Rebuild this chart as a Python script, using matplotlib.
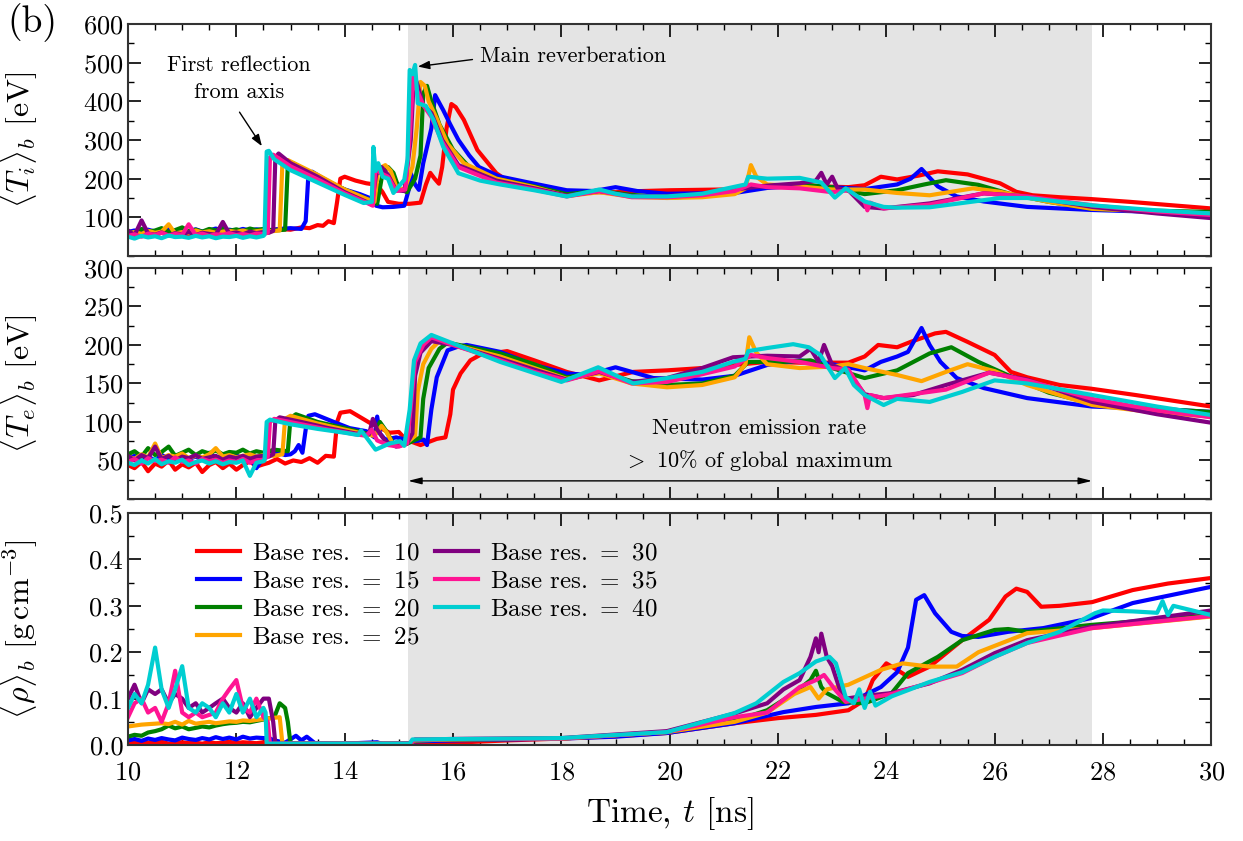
import matplotlib
matplotlib.use('Agg')
import matplotlib.pyplot as plt
from matplotlib.ticker import MultipleLocator

plt.rcParams['font.family'] = ['cmr10', 'DejaVu Serif']
plt.rcParams['mathtext.fontset'] = 'cm'
plt.rcParams['axes.formatter.use_mathtext'] = True

# common time grid for the early (pre-reflection) part of every run
t_early = [10.0, 10.12, 10.25, 10.37, 10.5, 10.62, 10.75, 10.87, 11.0, 11.12, 11.25,
           11.37, 11.5, 11.62, 11.75, 11.87, 12.0, 12.12, 12.25, 12.37, 12.5]

resolutions = [10, 15, 20, 25, 30, 35, 40]
colors = ['red', 'blue', 'green', 'orange', 'purple', 'deeppink', 'darkturquoise']

# ---- ion temperature <Ti>_b [eV]
ti10_t = t_early + [12.6, 12.8, 13.0, 13.2, 13.35, 13.5, 13.6, 13.7, 13.8, 13.86, 13.92, 14.0, 14.2, 14.4,
                    14.6, 14.7, 14.8, 15.0, 15.2, 15.4, 15.5, 15.58, 15.66, 15.74, 15.8, 15.88, 15.97,
                    16.05, 16.2, 16.45, 16.8, 17.0, 17.5, 18.0, 18.5, 19.0, 19.5, 20.0, 20.5, 21.0,
                    21.5, 22.0, 22.4, 22.8, 23.3, 23.6, 23.9, 24.2, 24.6, 24.95, 25.5, 26.1, 26.4,
                    26.7, 27.2, 27.8, 28.5, 29.2, 30.0]
ti10 = [55, 60, 52, 58, 54, 61, 56, 50, 59, 55, 62, 57, 53, 60, 56, 63, 58, 55, 61, 57, 62] + \
       [66, 70, 68, 74, 72, 80, 78, 90, 85, 140, 200, 205, 195, 188, 184, 165, 140, 135, 135, 138,
        185, 215, 200, 187, 230, 330, 393, 385, 352, 274, 214, 195, 178, 168, 165, 165, 168, 170,
        171, 172, 175, 180, 185, 180, 178, 183, 205, 198, 208, 219, 211, 188, 166, 157, 152, 147,
        140, 132, 123]

ti15_t = t_early + [12.6, 12.8, 13.0, 13.2, 13.28, 13.33, 13.4, 13.55, 13.8, 14.0, 14.28, 14.5, 14.58,
                    14.7, 14.9, 15.1, 15.18, 15.22, 15.3, 15.37, 15.45, 15.52, 15.6, 15.67, 15.75,
                    15.82, 15.95, 16.1, 16.3, 16.48, 16.85, 17.5, 18.1, 18.6, 19.0, 19.4, 19.95, 20.6,
                    21.2, 21.8, 22.4, 23.0, 23.6, 24.2, 24.45, 24.65, 24.95, 25.3, 25.8, 26.6, 27.8,
                    29.0, 30.0]
ti15 = [62, 66, 60, 68, 63, 65, 70, 62, 67, 64, 69, 63, 66, 71, 64, 68, 65, 70, 66, 69, 67] + \
       [66, 70, 72, 70, 90, 210, 218, 205, 185, 172, 160, 148, 130, 126, 127, 130, 170, 214, 185,
        171, 240, 282, 330, 416, 395, 377, 340, 300, 260, 230, 206, 187, 170, 168, 178, 168, 161,
        162, 163, 176, 182, 178, 173, 185, 200, 225, 180, 154, 141, 127, 119, 114, 110]

ti20_t = t_early + [12.7, 12.9, 12.95, 13.05, 13.5, 14.0, 14.4, 14.6, 14.7, 14.8, 14.9, 15.0, 15.15,
                    15.3, 15.4, 15.45, 15.52, 15.6, 15.75, 16.0, 16.3, 16.8, 17.5, 18.1, 18.7, 19.3,
                    19.95, 20.6, 21.2, 21.5, 22.0, 22.4, 23.0, 23.6, 24.2, 24.7, 25.1, 25.7, 26.3,
                    27.0, 27.8, 29.0, 30.0]
ti20 = [64, 58, 70, 63, 66, 72, 62, 67, 74, 64, 68, 63, 70, 66, 73, 65, 69, 64, 71, 67, 70] + \
       [66, 68, 235, 240, 205, 172, 148, 135, 215, 230, 215, 175, 165, 200, 260, 420, 440, 400,
        340, 275, 230, 200, 180, 160, 168, 158, 151, 155, 165, 180, 182, 185, 178, 160, 170, 185,
        196, 184, 160, 140, 122, 117, 114]

ti25_t = t_early + [12.65, 12.8, 12.85, 12.95, 13.5, 14.0, 14.4, 14.55, 14.62, 14.75, 14.85, 14.95,
                    15.1, 15.25, 15.33, 15.4, 15.48, 15.55, 15.7, 15.9, 16.2, 16.8, 17.5, 18.1, 18.7,
                    19.3, 19.95, 20.6, 21.2, 21.4, 21.5, 21.6, 21.8, 22.4, 23.0, 23.6, 24.2, 24.8,
                    25.6, 26.1, 27.0, 27.8, 29.0, 30.0]
ti25 = [58, 62, 57, 65, 60, 63, 82, 58, 62, 59, 66, 61, 64, 60, 63, 65, 62, 66, 61, 64, 66] + \
       [64, 66, 240, 248, 210, 172, 148, 140, 225, 235, 220, 180, 170, 230, 330, 450, 440, 400,
        355, 290, 240, 200, 178, 155, 165, 153, 150, 152, 160, 175, 235, 205, 185, 180, 172, 172,
        163, 157, 175, 166, 140, 122, 115, 110]

ti30_t = t_early + [12.6, 12.68, 12.72, 12.78, 13.0, 13.5, 14.0, 14.4, 14.5, 14.58, 14.68, 14.8,
                    14.95, 15.1, 15.22, 15.28, 15.35, 15.45, 15.6, 15.8, 16.1, 16.8, 17.5, 18.1,
                    18.7, 19.3, 19.95, 20.6, 21.2, 21.8, 22.4, 22.7, 22.8, 22.9, 23.0, 23.1, 23.3,
                    23.6, 23.95, 24.8, 25.8, 26.6, 27.8, 29.0, 30.0]
ti30 = [66, 54, 92, 58, 55, 61, 53, 59, 56, 62, 54, 60, 57, 55, 88, 58, 61, 56, 63, 59, 62] + \
       [60, 65, 255, 265, 240, 205, 165, 140, 133, 210, 230, 210, 170, 168, 300, 470, 440, 390,
        370, 300, 235, 195, 175, 156, 168, 155, 155, 160, 172, 182, 188, 195, 215, 185, 205, 175,
        170, 127, 123, 136, 162, 154, 127, 110, 98]

ti35_t = t_early + [12.58, 12.62, 12.68, 13.0, 13.5, 14.0, 14.4, 14.52, 14.57, 14.65, 14.8, 14.95,
                    15.12, 15.2, 15.27, 15.33, 15.45, 15.6, 15.8, 16.1, 16.8, 17.5, 18.1, 18.7,
                    19.3, 19.95, 20.6, 21.2, 21.5, 21.8, 22.4, 23.0, 23.3, 23.6, 23.65, 23.7, 23.95,
                    24.8, 25.8, 26.6, 27.8, 29.0, 30.0]
ti35 = [52, 56, 50, 58, 54, 60, 53, 57, 55, 82, 54, 58, 52, 56, 55, 59, 54, 57, 53, 58, 57] + \
       [60, 255, 262, 232, 198, 162, 138, 130, 230, 215, 205, 168, 172, 310, 470, 430, 390, 360,
        295, 230, 190, 172, 154, 168, 152, 152, 157, 168, 185, 178, 175, 165, 170, 140, 118, 138,
        123, 133, 162, 154, 131, 115, 106]

ti40_t = t_early + [12.52, 12.56, 12.6, 12.7, 13.0, 13.5, 14.0, 14.35, 14.5, 14.53, 14.57, 14.62,
                    14.7, 14.8, 14.9, 15.1, 15.16, 15.2, 15.25, 15.3, 15.35, 15.5, 15.64, 15.82,
                    16.1, 16.5, 16.87, 17.5, 18.1, 18.7, 19.0, 19.3, 19.95, 20.6, 21.2, 21.4, 21.45,
                    21.8, 22.4, 22.8, 23.05, 23.25, 23.6, 23.95, 24.2, 24.8, 25.4, 26.1, 26.6, 27.8,
                    29.0, 30.0]
ti40 = [50, 45, 52, 48, 51, 46, 53, 49, 50, 47, 52, 48, 51, 46, 50, 49, 52, 47, 51, 48, 52] + \
       [55, 270, 272, 250, 222, 190, 158, 137, 140, 282, 220, 240, 205, 200, 163, 197, 250, 481,
        470, 494, 395, 388, 352, 282, 214, 195, 185, 170, 154, 172, 161, 154, 154, 161, 179, 185,
        205, 200, 202, 190, 151, 175, 141, 127, 125, 126, 137, 150, 150, 131, 118, 110]

# ---- electron temperature <Te>_b [eV]
te10_t = t_early + [12.6, 12.75, 12.9, 13.05, 13.2, 13.35, 13.5, 13.65, 13.8, 13.86, 13.92, 14.1,
                    14.46, 14.83, 15.0, 15.13, 15.4, 15.7, 15.86, 15.95, 16.0, 16.14, 16.32, 16.5,
                    17.0, 17.5, 18.1, 18.7, 19.33, 19.95, 20.6, 21.2, 21.8, 22.4, 23.3, 23.6, 23.85,
                    24.2, 24.45, 24.9, 25.1, 25.5, 26.0, 26.3, 26.6, 27.2, 27.8, 28.6, 30.0]
te10 = [44, 40, 48, 36, 46, 42, 50, 38, 45, 41, 47, 35, 44, 48, 40, 46, 38, 44, 49, 42, 45] + \
       [47, 52, 46, 50, 48, 53, 47, 56, 55, 100, 112, 114, 99, 86, 87, 77, 70, 78, 80, 110, 142,
        163, 180, 187, 192, 180, 165, 154, 165, 167, 170, 174, 178, 177, 177, 185, 200, 197, 204,
        215, 217, 204, 187, 165, 158, 148, 143, 135, 120]

te15_t = t_early + [12.7, 12.9, 13.0, 13.08, 13.15, 13.22, 13.28, 13.33, 13.45, 13.8, 14.09, 14.4,
                    14.55, 14.6, 14.65, 14.75, 14.95, 15.13, 15.3, 15.46, 15.52, 15.6, 15.7, 15.9,
                    16.1, 16.25, 16.87, 17.5, 18.1, 18.5, 19.0, 19.7, 20.6, 21.2, 21.8, 22.4, 23.0,
                    23.6, 23.9, 24.2, 24.4, 24.65, 24.8, 25.0, 25.3, 25.8, 26.6, 27.8, 29.0, 30.0]
te15 = [52, 56, 48, 55, 50, 57, 53, 49, 58, 52, 55, 51, 60, 53, 56, 50, 57, 52, 55, 40, 54] + \
       [62, 57, 58, 62, 70, 60, 90, 108, 110, 100, 92, 88, 80, 107, 85, 77, 80, 77, 75, 77, 70,
        116, 158, 193, 198, 200, 191, 174, 163, 161, 171, 157, 155, 160, 174, 180, 175, 167, 178,
        185, 191, 222, 200, 178, 157, 144, 131, 120, 117, 113]

te20_t = t_early + [12.7, 12.95, 13.0, 13.1, 13.5, 14.0, 14.4, 14.55, 14.65, 14.75, 14.9, 15.1, 15.4,
                    15.45, 15.55, 15.75, 15.9, 16.87, 17.5, 18.1, 18.7, 19.3, 19.95, 20.6, 21.2,
                    21.45, 22.1, 22.6, 23.0, 23.6, 24.2, 24.8, 25.2, 25.7, 26.3, 27.0, 27.8, 29.0,
                    30.0]
te20 = [58, 62, 55, 66, 57, 61, 68, 56, 60, 64, 57, 62, 59, 63, 58, 61, 60, 64, 59, 62, 60] + \
       [64, 62, 105, 110, 100, 92, 85, 82, 100, 90, 72, 70, 80, 130, 170, 195, 203, 189, 175,
        158, 165, 153, 148, 150, 160, 178, 178, 180, 170, 157, 167, 189, 197, 178, 159, 138, 124,
        117, 113]

te25_t = t_early + [12.7, 12.85, 12.9, 13.0, 13.5, 14.0, 14.4, 14.55, 14.68, 14.78, 14.9, 15.1, 15.3,
                    15.35, 15.45, 15.6, 15.75, 16.87, 17.5, 18.1, 18.7, 19.3, 19.95, 20.6, 21.2,
                    21.4, 21.47, 21.6, 21.8, 22.4, 23.0, 23.3, 23.6, 24.2, 24.65, 25.1, 25.5, 26.0,
                    26.6, 27.8, 29.0, 30.0]
te25 = [55, 52, 58, 54, 72, 53, 57, 55, 59, 53, 56, 54, 58, 66, 55, 57, 54, 56, 58, 55, 57] + \
       [56, 58, 104, 108, 98, 90, 84, 82, 95, 86, 70, 70, 82, 140, 175, 195, 205, 185, 170, 156,
        163, 150, 145, 148, 158, 175, 210, 190, 175, 170, 172, 175, 170, 161, 153, 165, 175, 166,
        148, 122, 112, 107]

te30_t = t_early + [12.6, 12.68, 12.72, 12.8, 13.2, 13.7, 14.2, 14.45, 14.52, 14.6, 14.75, 14.95,
                    15.15, 15.25, 15.3, 15.4, 15.6, 16.0, 16.87, 17.5, 18.1, 18.7, 19.3, 19.95,
                    20.6, 21.17, 21.8, 22.4, 22.6, 22.75, 22.85, 23.0, 23.3, 23.6, 23.95, 24.5,
                    25.1, 25.9, 26.6, 27.8, 29.0, 30.0]
te30 = [56, 50, 57, 53, 68, 52, 56, 50, 55, 53, 57, 52, 54, 56, 51, 55, 53, 56, 52, 55, 56] + \
       [55, 58, 102, 106, 100, 92, 85, 84, 104, 90, 75, 68, 72, 85, 160, 190, 205, 200, 182,
        168, 155, 165, 152, 157, 170, 184, 186, 185, 195, 178, 200, 174, 165, 136, 131, 135,
        148, 164, 155, 126, 110, 99]

te35_t = t_early + [12.58, 12.62, 12.7, 13.2, 13.7, 14.2, 14.4, 14.5, 14.6, 14.8, 15.0, 15.15,
                    15.22, 15.3, 15.45, 15.6, 16.0, 16.87, 17.5, 18.1, 18.7, 19.3, 19.95, 20.6,
                    21.2, 21.5, 21.8, 22.4, 23.0, 23.3, 23.6, 23.65, 23.7, 23.95, 25.1, 25.9, 26.6,
                    27.8, 29.0, 30.0]
te35 = [48, 52, 46, 53, 49, 51, 47, 54, 48, 50, 46, 52, 49, 51, 47, 50, 48, 52, 47, 50, 51] + \
       [55, 100, 104, 97, 90, 84, 82, 90, 76, 70, 68, 72, 120, 178, 200, 210, 200, 180, 165, 154,
        166, 150, 152, 162, 172, 187, 183, 178, 170, 168, 135, 118, 135, 131, 142, 164, 154, 130,
        115, 106]

te40_t = t_early + [12.52, 12.56, 12.62, 13.0, 13.5, 14.0, 14.25, 14.3, 14.4, 14.57, 14.83, 15.02,
                    15.1, 15.2, 15.28, 15.4, 15.6, 16.87, 18.0, 18.68, 19.33, 19.95, 20.6, 21.17,
                    21.4, 21.45, 21.8, 22.28, 22.57, 22.78, 23.05, 23.24, 23.4, 23.6, 23.95, 24.2,
                    24.8, 25.4, 26.0, 26.6, 27.8, 29.0, 30.0]
te40 = [47, 44, 50, 46, 52, 45, 49, 47, 51, 44, 48, 50, 46, 49, 45, 48, 47, 50, 30, 47, 49] + \
       [50, 100, 103, 97, 91, 86, 83, 89, 80, 64, 72, 75, 69, 116, 180, 202, 213, 178, 152, 171,
        150, 157, 165, 178, 182, 192, 196, 201, 197, 187, 157, 170, 148, 135, 122, 130, 126, 139,
        154, 150, 135, 120, 109]

# ---- density <rho>_b [g cm^-3]
rho10_t = t_early + [12.6, 13.0, 14.0, 15.2, 16.0, 17.0, 18.0, 19.0, 19.95, 21.2, 22.0, 22.7, 23.3,
                     23.6, 23.75, 24.0, 24.2, 24.4, 24.8, 25.4, 25.9, 26.2, 26.4, 26.6, 26.86, 27.2,
                     27.8, 28.55, 29.2, 30.0]
rho10 = [0.004, 0.006, 0.003, 0.005, 0.004, 0.007, 0.003, 0.005, 0.006, 0.004, 0.005, 0.003,
         0.006, 0.004, 0.005, 0.007, 0.004, 0.006, 0.005, 0.004, 0.006] + \
        [0.006, 0.004, 0.003, 0.003, 0.005, 0.010, 0.014, 0.019, 0.026, 0.047, 0.058, 0.065, 0.075,
         0.097, 0.140, 0.176, 0.162, 0.147, 0.169, 0.226, 0.270, 0.320, 0.337, 0.330, 0.298, 0.300,
         0.308, 0.334, 0.348, 0.360]

rho15_t = t_early + [12.6, 12.7, 12.9, 13.1, 13.2, 13.3, 13.45, 14.0, 14.6, 14.7, 15.2, 15.3, 16.0,
                     17.0, 18.0, 19.0, 19.95, 21.2, 22.1, 22.7, 23.3, 23.9, 24.2, 24.4, 24.55, 24.7,
                     24.9, 25.2, 25.4, 25.7, 26.25, 26.9, 27.8, 28.55, 30.0]
rho15 = [0.010, 0.013, 0.009, 0.014, 0.011, 0.015, 0.012, 0.010, 0.016, 0.013, 0.011, 0.015,
         0.012, 0.017, 0.013, 0.016, 0.012, 0.018, 0.014, 0.016, 0.015] + \
        [0.015, 0.010, 0.005, 0.020, 0.010, 0.018, 0.004, 0.003, 0.006, 0.002, 0.004, 0.008, 0.010,
         0.012, 0.014, 0.018, 0.026, 0.047, 0.071, 0.082, 0.090, 0.125, 0.157, 0.210, 0.313, 0.323,
         0.284, 0.244, 0.235, 0.233, 0.244, 0.252, 0.274, 0.306, 0.341]

rho20_t = t_early + [12.7, 12.8, 12.9, 12.95, 13.0, 14.0, 15.2, 15.3, 16.0, 18.0, 19.95, 21.2, 21.8,
                     22.3, 22.6, 22.7, 22.8, 22.9, 23.2, 23.6, 24.1, 24.4, 24.95, 25.4, 26.0, 26.25,
                     26.6, 27.8, 30.0]
rho20 = [0.018, 0.022, 0.020, 0.027, 0.030, 0.034, 0.042, 0.036, 0.040, 0.034, 0.037, 0.040,
         0.038, 0.042, 0.045, 0.047, 0.048, 0.050, 0.049, 0.052, 0.055] + \
        [0.060, 0.090, 0.080, 0.050, 0.003, 0.003, 0.003, 0.010, 0.012, 0.014, 0.028, 0.052, 0.075,
         0.112, 0.140, 0.160, 0.125, 0.112, 0.093, 0.090, 0.112, 0.155, 0.190, 0.226, 0.248, 0.250,
         0.244, 0.259, 0.280]

rho25_t = t_early + [12.8, 12.85, 14.0, 15.2, 15.3, 16.0, 18.0, 19.95, 21.2, 21.8, 22.3, 22.6,
                     22.75, 22.9, 23.3, 23.9, 24.3, 24.8, 25.3, 25.7, 26.6, 27.8, 30.0]
rho25 = [0.040, 0.042, 0.044, 0.045, 0.046, 0.047, 0.045, 0.050, 0.044, 0.052, 0.046, 0.048,
         0.050, 0.047, 0.049, 0.051, 0.050, 0.053, 0.052, 0.054, 0.056] + \
        [0.060, 0.003, 0.003, 0.003, 0.010, 0.012, 0.014, 0.028, 0.050, 0.070, 0.110, 0.125, 0.100,
         0.120, 0.130, 0.162, 0.176, 0.169, 0.169, 0.200, 0.241, 0.252, 0.277]

rho30_t = t_early + [12.6, 12.68, 12.72, 14.0, 15.2, 15.3, 16.0, 18.0, 19.95, 21.2, 21.8, 22.1,
                     22.4, 22.6, 22.7, 22.75, 22.8, 22.9, 23.0, 23.2, 23.6, 24.1, 24.8, 25.4, 26.0,
                     26.6, 27.8, 30.0]
rho30 = [0.10, 0.13, 0.09, 0.12, 0.11, 0.12, 0.09, 0.11, 0.10, 0.08, 0.09, 0.07, 0.08, 0.09,
         0.10, 0.08, 0.07, 0.09, 0.06, 0.08, 0.10] + \
        [0.10, 0.05, 0.003, 0.003, 0.003, 0.012, 0.013, 0.015, 0.030, 0.068, 0.090, 0.120, 0.140,
         0.190, 0.230, 0.200, 0.240, 0.190, 0.170, 0.099, 0.106, 0.112, 0.133, 0.162, 0.198,
         0.226, 0.255, 0.290]

rho35_t = t_early + [12.58, 12.62, 14.0, 15.2, 15.3, 16.0, 18.0, 19.95, 21.2, 21.8, 22.4, 22.7,
                     22.85, 23.05, 23.25, 24.1, 25.4, 26.0, 26.6, 27.8, 30.0]
rho35 = [0.06, 0.09, 0.10, 0.07, 0.08, 0.05, 0.09, 0.16, 0.07, 0.06, 0.07, 0.06, 0.065, 0.07,
         0.10, 0.12, 0.14, 0.08, 0.07, 0.10, 0.06] + \
        [0.05, 0.003, 0.003, 0.003, 0.012, 0.013, 0.014, 0.028, 0.060, 0.070, 0.125, 0.140,
         0.151, 0.120, 0.093, 0.110, 0.155, 0.190, 0.220, 0.252, 0.278]

rho40_t = t_early + [12.54, 12.56, 14.0, 15.2, 15.25, 16.0, 18.0, 19.95, 21.2, 21.6, 22.1, 22.4,
                     22.7, 22.95, 23.07, 23.25, 23.4, 23.5, 23.6, 23.7, 23.8, 24.1, 24.8, 25.4,
                     26.0, 26.6, 27.2, 27.85, 28.0, 28.55, 29.0, 29.1, 29.2, 29.3, 30.0]
rho40 = [0.08, 0.11, 0.09, 0.13, 0.21, 0.12, 0.08, 0.12, 0.17, 0.08, 0.07, 0.09, 0.08, 0.06,
         0.09, 0.07, 0.11, 0.07, 0.10, 0.06, 0.08] + \
        [0.07, 0.003, 0.003, 0.003, 0.012, 0.013, 0.015, 0.028, 0.069, 0.090, 0.136, 0.155, 0.180,
         0.190, 0.176, 0.103, 0.090, 0.120, 0.080, 0.115, 0.085, 0.105, 0.136, 0.157, 0.190, 0.220,
         0.244, 0.284, 0.290, 0.288, 0.285, 0.310, 0.280, 0.300, 0.280]

ti_runs = [(ti10_t, ti10), (ti15_t, ti15), (ti20_t, ti20), (ti25_t, ti25),
           (ti30_t, ti30), (ti35_t, ti35), (ti40_t, ti40)]
te_runs = [(te10_t, te10), (te15_t, te15), (te20_t, te20), (te25_t, te25),
           (te30_t, te30), (te35_t, te35), (te40_t, te40)]
rho_runs = [(rho10_t, rho10), (rho15_t, rho15), (rho20_t, rho20), (rho25_t, rho25),
            (rho30_t, rho30), (rho35_t, rho35), (rho40_t, rho40)]

burn_start, burn_end = 15.17, 27.8

fig = plt.figure(figsize=(12.43, 8.41), dpi=100)
left, width = 0.103, 0.8715
ax1 = fig.add_axes([left, 0.6956, width, 0.2759])
ax2 = fig.add_axes([left, 0.4067, width, 0.2747])
ax3 = fig.add_axes([left, 0.1141, width, 0.2759])

panels = [(ax1, ti_runs, (0, 600), 100, 50, r'$\langle T_i \rangle_b$ [eV]'),
          (ax2, te_runs, (0, 300), 50, 25, r'$\langle T_e \rangle_b$ [eV]'),
          (ax3, rho_runs, (0, 0.5), 0.1, 0.05, r'$\langle \rho \rangle_b$ [g$\,$cm$^{-3}$]')]

for ax, runs, ylim, major, minor, ylabel in panels:
    ax.axvspan(burn_start, burn_end, color='#e4e4e4', lw=0, zorder=0)
    for (t, v), res, c in zip(runs, resolutions, colors):
        ax.plot(t, v, color=c, lw=3.0, label=r'Base res. $=$ %d' % res, zorder=2)
    ax.set_xlim(10, 30)
    ax.set_ylim(*ylim)
    ax.xaxis.set_major_locator(MultipleLocator(2))
    ax.xaxis.set_minor_locator(MultipleLocator(0.5))
    ax.yaxis.set_major_locator(MultipleLocator(major))
    ax.yaxis.set_minor_locator(MultipleLocator(minor))
    ax.tick_params(which='both', direction='in', top=True, right=True, labelsize=19)
    ax.tick_params(axis='x', which='major', pad=11)
    ax.tick_params(which='major', length=9, width=1.2)
    ax.tick_params(which='minor', length=4.5, width=1.0)
    for sp in ax.spines.values():
        sp.set_color('#333333')
        sp.set_linewidth(1.5)
    ax.set_ylabel(ylabel, fontsize=23)
    ax.yaxis.set_label_coords(-0.081, 0.5)

ax1.set_yticks([100, 200, 300, 400, 500, 600])
ax2.set_yticks([50, 100, 150, 200, 250, 300])
ax3.yaxis.set_major_formatter(matplotlib.ticker.FormatStrFormatter('%.1f'))
ax1.tick_params(labelbottom=False)
ax2.tick_params(labelbottom=False)
ax3.set_xlabel(r'Time, $t$ [ns]', fontsize=24, labelpad=8)

# annotations
ax1.annotate('', xy=(12.5, 278), xytext=(12.03, 378),
             arrowprops=dict(arrowstyle='-|>,head_length=0.7,head_width=0.25', color='black', lw=1.0))
ax1.text(12.05, 458, 'First reflection\nfrom axis', ha='center', va='center', fontsize=16,
         linespacing=1.45)
ax1.annotate('', xy=(15.3, 489), xytext=(16.41, 509),
             arrowprops=dict(arrowstyle='-|>,head_length=0.7,head_width=0.25', color='black', lw=1.0))
ax1.text(16.5, 517, 'Main reverberation', ha='left', va='center', fontsize=16)

ax2.text(21.65, 69, 'Neutron emission rate\n' + r'$>$ 10% of global maximum', ha='center',
         va='center', fontsize=16, linespacing=1.5)
ax2.annotate('', xy=(burn_start, 23.5), xytext=(burn_end, 23.5),
             arrowprops=dict(arrowstyle='<|-|>,head_length=0.8,head_width=0.2', color='black',
                             lw=1.0, shrinkA=0, shrinkB=0))

ax3.legend(loc='upper left', bbox_to_anchor=(0.043, 0.97), ncol=2, frameon=False, fontsize=18,
           handlelength=1.7, handletextpad=0.5, columnspacing=0.6, labelspacing=0.22)

fig.text(0.006, 0.973, '(b)', fontsize=27, va='center', ha='left')

fig.savefig('out.png', dpi=100)
